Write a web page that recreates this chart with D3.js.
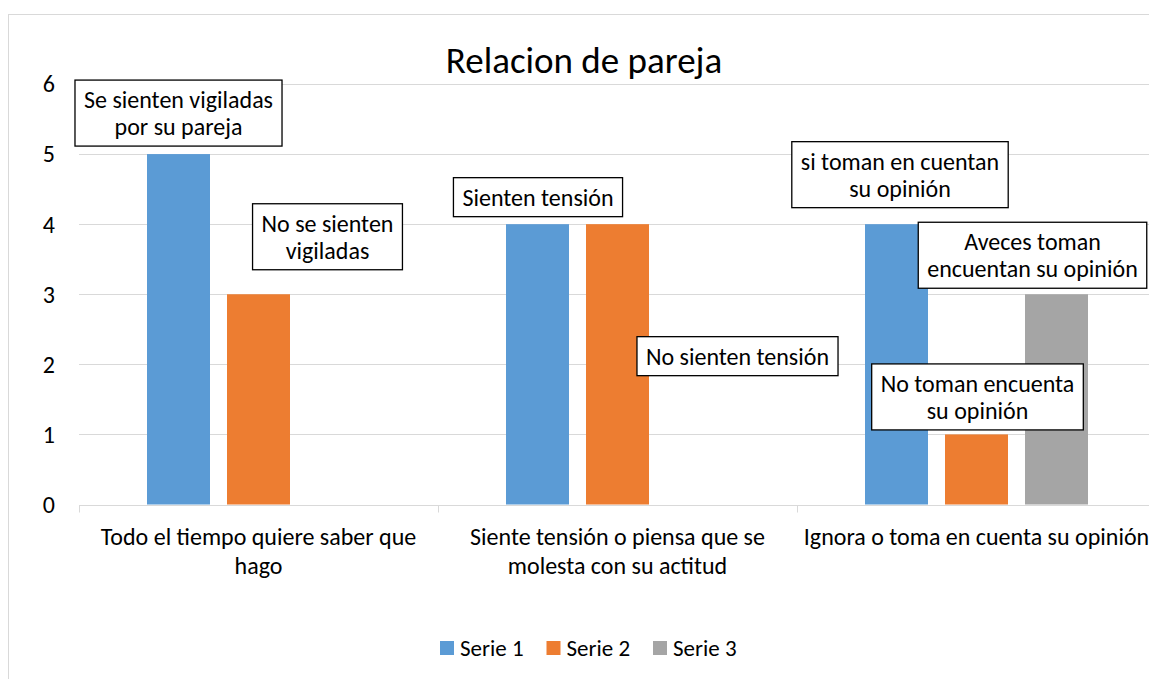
<!DOCTYPE html>
<html>
<head>
<meta charset="utf-8">
<script src="https://cdn.jsdelivr.net/npm/d3@7"></script>
<style>
    body { margin: 0; background: #fff; }
    text { font-family: Carlito, Calibri, Lato, sans-serif; fill: #000; }
    .grid line { stroke: #d9d9d9; }
    .callout rect { fill: #fff; stroke: #000; stroke-width: 1.3px; }
</style>
</head>
<body>
<div id="chart"></div>
<script>
// Data
var categories = ["Todo el tiempo quiere saber que hago",
    "Siente tensión o piensa que se molesta con su actitud",
    "Ignora o toma en cuenta su opinión"];
var seriesNames = ["Serie 1", "Serie 2", "Serie 3"];
var serie1 = [5, 4, 4];
var serie2 = [3, 4, 1];
var serie3 = [0, 0, 3];
var yTicks = [0, 1, 2, 3, 4, 5, 6];

// data label texts, one array per series ("" = no label)
var labelsSerie1 = ["Se sienten vigiladas\npor su pareja", "Sienten tensión", "si toman en cuentan\nsu opinión"];
var labelsSerie2 = ["No se sienten\nvigiladas", "No sienten tensión", "No toman encuenta\nsu opinión"];
var labelsSerie3 = ["", "", "Aveces toman\nencuentan su opinión"];

var colors = ["#5b9bd5", "#ed7d31", "#a5a5a5"];

// where each dragged label sits, relative to the top centre of its bar [dx, dy]
var labelOffsets = [
    [[0, -41], [69, -57.5], [0, 0]],
    [[0.5, -27], [120, 132], [0, 0]],
    [[3.5, -49.5], [1, -37.5], [-24, -39]]
];

var W = 1149, H = 679;
var margin = { top: 84, right: -7, bottom: 174, left: 79 };
var fontSize = 24;

var svg = d3.select("#chart").append("svg")
    .attr("width", W)
    .attr("height", H);

// chart area border (cut off at right and bottom)
svg.append("rect")
    .attr("x", 8.5).attr("y", 14.5)
    .attr("width", 1300).attr("height", 800)
    .attr("fill", "none")
    .attr("stroke", "#d9d9d9");

var values = [serie1, serie2, serie3];
var labels = [labelsSerie1, labelsSerie2, labelsSerie3];

var data = categories.map(function(c, i) {
    return {
        cat: c,
        bars: seriesNames.map(function(s, j) {
            return { cat: c, serie: s, idx: j, value: values[j][i], label: labels[j][i], off: labelOffsets[i][j] };
        })
    };
});

// Scales
var x0 = d3.scaleBand()
    .domain(categories)
    .range([margin.left, W - margin.right]);

var x1 = d3.scaleBand()
    .domain(seriesNames)
    .range([0, x0.bandwidth()])
    .paddingInner(0.2125)
    .paddingOuter(0.85);

var y = d3.scaleLinear()
    .domain([0, 6])
    .range([H - margin.bottom - 0.5, margin.top]);

// Gridlines
svg.append("g")
    .attr("class", "grid")
    .selectAll("line")
    .data(yTicks.slice(1))
    .enter()
    .append("line")
    .attr("x1", margin.left)
    .attr("x2", W - margin.right)
    .attr("y1", function(d) { return Math.round(y(d)) + 0.5; })
    .attr("y2", function(d) { return Math.round(y(d)) + 0.5; });

// y labels
svg.append("g")
    .selectAll("text")
    .data(yTicks)
    .enter()
    .append("text")
    .attr("x", 55)
    .attr("y", function(d) { return y(d); })
    .attr("dy", "0.35em")
    .attr("text-anchor", "end")
    .style("font-size", fontSize + "px")
    .text(function(d) { return d; });

// Bars
var groups = svg.selectAll(".cat")
    .data(data)
    .enter()
    .append("g")
    .attr("class", "cat")
    .attr("transform", function(d) { return "translate(" + x0(d.cat) + ",0)"; });

groups.selectAll("rect")
    .data(function(d) { return d.bars; })
    .enter()
    .append("rect")
    .attr("x", function(d) { return x1(d.serie); })
    .attr("width", x1.bandwidth())
    .attr("y", function(d) { return y(d.value); })
    .attr("height", function(d) { return y(0) - y(d.value); })
    .attr("fill", function(d) { return colors[d.idx]; });

// x axis line + ticks at category boundaries
var axisY = Math.round(y(0)) + 0.5;
svg.append("line")
    .attr("x1", margin.left).attr("x2", W - margin.right)
    .attr("y1", axisY).attr("y2", axisY)
    .attr("stroke", "#d9d9d9");

svg.append("g")
    .selectAll("line")
    .data(categories)
    .enter()
    .append("line")
    .attr("x1", function(d) { return Math.round(x0(d)) + 0.5; })
    .attr("x2", function(d) { return Math.round(x0(d)) + 0.5; })
    .attr("y1", axisY)
    .attr("y2", axisY + 7)
    .attr("stroke", "#d9d9d9");

// category labels, wrapped to the band width
function wrap(textSel, width) {
    textSel.each(function() {
        var text = d3.select(this),
            words = text.text().split(/\s+/),
            lines = [], line = [];
        text.text(null);
        var tspan = text.append("tspan");
        words.forEach(function(w) {
            line.push(w);
            tspan.text(line.join(" "));
            if (tspan.node().getComputedTextLength() > width && line.length > 1) {
                line.pop();
                lines.push(line.join(" "));
                line = [w];
            }
        });
        lines.push(line.join(" "));
        tspan.remove();
        var x = text.attr("x");
        lines.forEach(function(l, i) {
            text.append("tspan").attr("x", x).attr("dy", i === 0 ? 0 : 29).text(l);
        });
    });
}

svg.append("g")
    .selectAll("text")
    .data(categories)
    .enter()
    .append("text")
    .attr("x", function(d) { return x0(d) + x0.bandwidth() / 2; })
    .attr("y", axisY + 39)
    .attr("text-anchor", "middle")
    .style("font-size", fontSize + "px")
    .text(function(d) { return d; })
    .call(wrap, x0.bandwidth() - 6);

// Title
svg.append("text")
    .attr("x", 584)
    .attr("y", 73)
    .attr("text-anchor", "middle")
    .style("font-size", "37px")
    .text("Relacion de pareja");

// Data label callouts
var allBars = [];
data.forEach(function(d) { d.bars.forEach(function(b) { if (b.label) allBars.push(b); }); });

var callouts = svg.selectAll(".callout")
    .data(allBars)
    .enter()
    .append("g")
    .attr("class", "callout")
    .attr("transform", function(d) {
        var cx = x0(d.cat) + x1(d.serie) + x1.bandwidth() / 2 + d.off[0];
        var cy = y(d.value) + d.off[1];
        return "translate(" + cx + "," + cy + ")";
    });

var lineH = 27;
callouts.each(function(d) {
    var g = d3.select(this);
    var lines = d.label.split("\n");
    var rect = g.append("rect");
    var txt = g.append("text")
        .attr("text-anchor", "middle")
        .style("font-size", fontSize + "px");
    lines.forEach(function(l, i) {
        txt.append("tspan")
            .attr("x", 0)
            .attr("y", (i - (lines.length - 1) / 2) * lineH)
            .attr("dy", "0.35em")
            .text(l);
    });
    var bw = txt.node().getBBox().width + 18;
    var bh = lines.length * lineH + 12;
    rect.attr("x", -bw / 2).attr("y", -bh / 2)
        .attr("width", bw).attr("height", bh);
});

// Legend
var legend = svg.append("g")
    .attr("transform", "translate(440,641)");

var items = legend.selectAll("g")
    .data(seriesNames)
    .enter()
    .append("g")
    .attr("transform", function(d, i) { return "translate(" + (i * 106.5) + ",0)"; });

items.append("rect")
    .attr("width", 14)
    .attr("height", 14)
    .attr("fill", function(d, i) { return colors[i]; });

items.append("text")
    .attr("x", 20)
    .attr("y", 7)
    .attr("dy", "0.35em")
    .style("font-size", "23px")
    .text(function(d) { return d; });
</script>
</body>
</html>
